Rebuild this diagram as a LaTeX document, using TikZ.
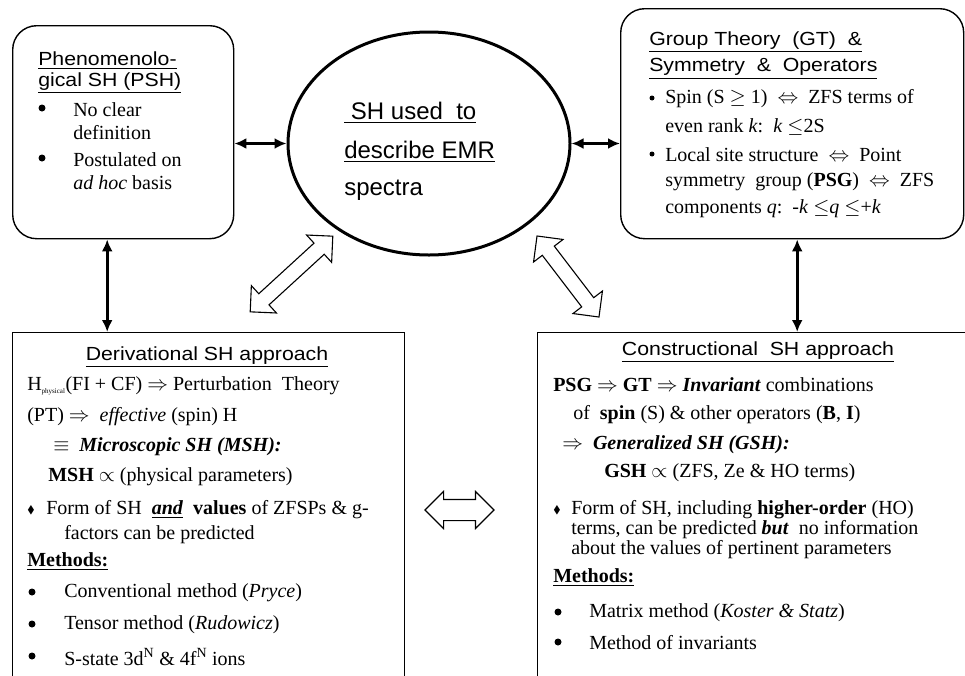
\documentclass[tikz,border=0pt]{standalone}
\usepackage{fontspec}
\setmainfont{Liberation Serif}
\setsansfont{Liberation Sans}
\newfontfamily\hdfont{Liberation Sans}[FakeStretch=1.12]
\usepackage{amssymb}
\usetikzlibrary{shapes.geometric,shapes.arrows,arrows.meta}

\tikzset{every picture/.style={line width=1pt}}
\tikzset{
  rbox/.style={draw, line width=1.4pt, rounded corners=24pt, inner sep=0pt, anchor=north west},
  sbox/.style={draw, line width=1.4pt, inner sep=0pt, anchor=north west},
  ln/.style={anchor=west, inner sep=0.75pt, font=\fontsize{20}{22}\selectfont},
  hd/.style={anchor=west, inner sep=0.75pt, font=\hdfont\fontsize{19}{22}\selectfont},
  bul/.style={circle, fill, inner sep=0pt, minimum size=7pt},
  dia/.style={inner sep=0pt, font=\fontsize{11}{12}\selectfont},
  link/.style={line width=3pt, {Latex[length=12pt,width=11pt]}-{Latex[length=12pt,width=11pt]}},
  hollow/.style={draw, double arrow, line width=1.1pt, inner xsep=0pt, inner ysep=7pt, double arrow head extend=11pt},
}

\begin{document}
\begin{tikzpicture}[x=1pt,y=1pt,yscale=-1,xscale=1]
		\useasboundingbox (0,0) rectangle (965,675);
		\clip (0,0) rectangle (965,675);
		
		%Boxes
		\node[rbox, minimum width=221pt, minimum height=213pt] (psh) at (12,25) {};
		\node[rbox, minimum width=343pt, minimum height=230pt] (gt) at (620,8) {};
		\node[draw, ellipse, line width=3pt, inner sep=0pt, minimum width=282pt, minimum height=223pt] (emr) at (429,143.5) {};
		\node[sbox, minimum width=392pt, minimum height=380pt] (der) at (12,332) {};
		\node[sbox, minimum width=440pt, minimum height=380pt] (con) at (537,332) {};
		
		%Links
		\draw[link] (psh.east |- emr.west) -- (emr.west);
		\draw[link] (emr.east) -- (emr.east -| gt.west);
		\draw[link] ([xshift=-16pt]psh.south) -- ([xshift=-16pt]psh.south |- der.north);
		\draw[link] ([xshift=5pt]gt.south) -- ([xshift=5pt]gt.south |- con.north);
		
		%Hollow arrows
		\node[hollow, minimum height=112pt, rotate=42.5] (hl) at (291.5,274) {};
		\node[hollow, minimum height=102pt, rotate=-52.6] (hr) at (568,276.5) {};
		\node[hollow, minimum height=69pt, inner ysep=10pt, double arrow head extend=8pt] (hm) at (459.5,510) {};
		
		%Centre
		\node[anchor=west, inner sep=0.75pt, font=\sffamily\fontsize{24}{28}\selectfont] (emr1) at (343,113) {\underline{ SH used\ \ to}};
		\node[anchor=west, inner sep=0.75pt, font=\sffamily\fontsize{24}{28}\selectfont] (emr2) at (343,152) {\underline{describe EMR}};
		\node[anchor=west, inner sep=0.75pt, font=\sffamily\fontsize{24}{28}\selectfont] (emr3) at (343,190) {spectra};
		
		%Phenomenological SH
		\node[hd] (psh1) at (37,61) {\underline{Phenomenolo-}};
		\node[hd] (psh2) at (37,83) {\underline{gical SH (PSH)}};
		\node[bul] (pshb1) at (42,108) {};
		\node[ln] (psh3) at (72,110) {No clear};
		\node[ln] (psh4) at (72,133) {definition};
		\node[bul] (pshb2) at (42,158) {};
		\node[ln] (psh5) at (72,160) {Postulated on};
		\node[ln] (psh6) at (72,183) {\textit{ad hoc} basis};
		
		%Group theory
		\node[hd] (gt1) at (648,42) {\underline{Group Theory\ \ (GT)\ \ \&}};
		\node[hd] (gt2) at (648,69) {\underline{Symmetry\ \ \&\ \ Operators}};
		\node[bul, minimum size=5pt] (gtb1) at (652,98) {};
		\node[ln] (gt3) at (664,99) {Spin (S $\geq$ 1)\ \ $\Leftrightarrow$\ \ ZFS terms of};
		\node[ln] (gt4) at (664,127) {even rank \textit{k}:\ \ \textit{k} $\leq$2S};
		\node[bul, minimum size=5pt] (gtb2) at (652,154) {};
		\node[ln] (gt5) at (664,155) {Local site structure\ \ $\Leftrightarrow$\ \ Point};
		\node[ln] (gt6) at (664,182) {symmetry\ \ group (\textbf{PSG})\ \ $\Leftrightarrow$\ \ ZFS};
		\node[ln] (gt7) at (664,209) {components \textit{q}:\ \ -\textit{k} $\leq$\textit{q} $\leq$+\textit{k}};
		
		%Derivational
		\node[hd, anchor=center] (der1) at (207,357) {\underline{Derivational SH approach}};
		\node[ln] (der2) at (26,386) {H\textsubscript{\scriptsize physical}(FI + CF) $\Rightarrow$ Perturbation\ \ Theory};
		\node[ln] (der3) at (26,417) {(PT) $\Rightarrow$\ \ \textit{effective} (spin) H};
		\node[ln] (der4) at (52,447) {$\equiv$\ \ \textbf{\textit{Microscopic SH (MSH):}}};
		\node[ln] (der5) at (47,477) {\textbf{MSH} $\propto$ (physical parameters)};
		\node[dia] (derd) at (31,510) {$\blacklozenge$};
		\node[ln] (der6) at (45,510) {Form of SH\ \ \underline{\textbf{\textit{and}}}\ \ \textbf{values} of ZFSPs \& g-};
		\node[ln] (der7) at (63,535) {factors can be predicted};
		\node[ln] (der8) at (26,562) {\underline{\textbf{Methods:}}};
		\node[bul] (derb1) at (32,592) {};
		\node[ln] (der9) at (63,593) {Conventional method (\textit{Pryce})};
		\node[bul] (derb2) at (32,624) {};
		\node[ln] (der10) at (63,625) {Tensor method (\textit{Rudowicz})};
		\node[bul] (derb3) at (32,656) {};
		\node[ln] (der11) at (63,657) {S-state 3d\textsuperscript{N} \& 4f\textsuperscript{N} ions};
		
		%Constructional
		\node[hd, anchor=center] (con1) at (758,352) {\underline{Constructional\ \ SH approach}};
		\node[ln] (con2) at (552,385) {\textbf{PSG} $\Rightarrow$ \textbf{GT} $\Rightarrow$ \textbf{\textit{Invariant}} combinations};
		\node[ln] (con3) at (572,415) {of\ \ \textbf{spin} (S) \& other operators (\textbf{B}, \textbf{I})};
		\node[ln] (con4) at (561,445) {$\Rightarrow$\ \ \textbf{\textit{Generalized SH (GSH):}}};
		\node[ln] (con5) at (603,473) {\textbf{GSH} $\propto$ (ZFS, Ze \& HO terms)};
		\node[dia] (cond) at (557,510) {$\blacklozenge$};
		\node[ln] (con6) at (570,510) {Form of SH, including \textbf{higher-order} (HO)};
		\node[ln] (con7) at (570,530) {terms, can be predicted \textbf{\textit{but}}\ \ no information};
		\node[ln] (con8) at (570,550) {about the values of pertinent parameters};
		\node[ln] (con9) at (552,578) {\underline{\textbf{Methods:}}};
		\node[bul] (conb1) at (558,612) {};
		\node[ln] (con10) at (588,613) {Matrix method (\textit{Koster \& Statz})};
		\node[bul] (conb2) at (558,642) {};
		\node[ln] (con11) at (588,643) {Method of invariants};
		
	\end{tikzpicture}
\end{document}
